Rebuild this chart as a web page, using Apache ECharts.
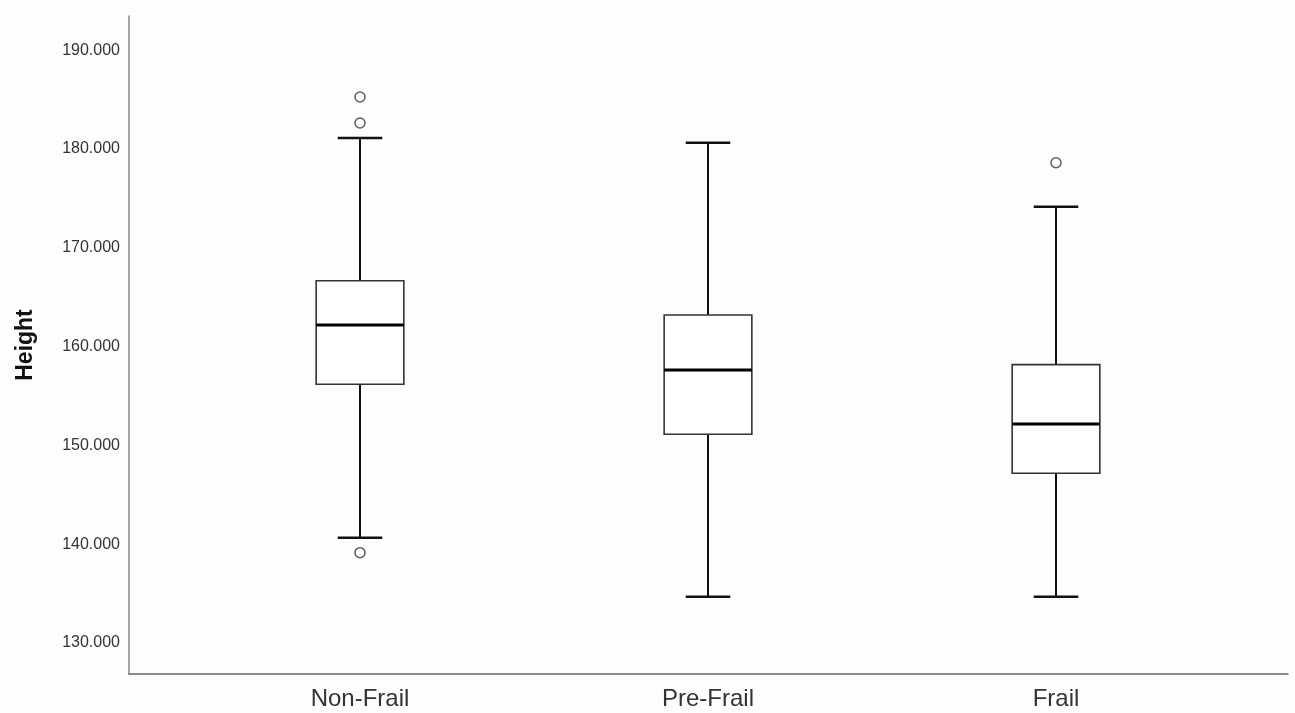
<!DOCTYPE html>
<html>
<head>
<meta charset="utf-8">
<script src="https://cdn.jsdelivr.net/npm/echarts@6/dist/echarts.min.js"></script>
<style>
html,body{margin:0;padding:0;background:#fdfdfd;}
#c{width:1295px;height:713px;}
</style>
</head>
<body>
<div id="c"></div>
<script>
const categories = ['Non-Frail', 'Pre-Frail', 'Frail'];
const lowerWhisker = [140.67, 134.70, 134.70];
const q1 = [156.19, 151.13, 147.19];
const median = [162.20, 157.64, 152.18];
const q3 = [166.68, 163.21, 158.18];
const upperWhisker = [181.12, 180.65, 174.17];
const outlierCat = [0, 0, 0, 2];
const outlierVal = [185.27, 182.64, 139.15, 178.62];
const yTicks = [130, 140, 150, 160, 170, 180, 190];
const yName = 'Height';

const boxData = categories.map((c, i) => [i, lowerWhisker[i], q1[i], median[i], q3[i], upperWhisker[i]]);
const outData = outlierCat.map((c, i) => [c, outlierVal[i]]);

const yMin = 126.87, yMax = 193.47;
const font = 'Liberation Sans, Arial, sans-serif';

const chart = echarts.init(document.getElementById('c'), null, {renderer: 'canvas'});
chart.setOption({
  backgroundColor: '#fdfdfd',
  animation: false,
  grid: [
    {left: 186, right: 65, top: 16, bottom: 39},
    {left: 129, right: 7, top: 16, bottom: 39}
  ],
  xAxis: [
    {
      type: 'category', gridIndex: 0, data: categories,
      axisLine: {show: false}, axisTick: {show: false},
      axisLabel: {fontFamily: font, fontSize: 24, color: '#333', margin: 13}
    },
    {
      type: 'value', gridIndex: 1, min: 0, max: 1,
      axisLine: {show: true, lineStyle: {color: '#666', width: 1.5}},
      axisTick: {show: false}, axisLabel: {show: false}, splitLine: {show: false}
    }
  ],
  yAxis: [
    {
      type: 'value', gridIndex: 0, min: yMin, max: yMax,
      axisLine: {show: false}, axisTick: {show: false}, axisLabel: {show: false}, splitLine: {show: false}
    },
    {
      type: 'value', gridIndex: 1, min: yMin, max: yMax,
      name: yName, nameLocation: 'middle', nameGap: 92,
      nameTextStyle: {fontFamily: font, fontSize: 23, fontWeight: 'bold', color: '#111'},
      axisLine: {show: true, lineStyle: {color: '#888', width: 1.5}},
      axisTick: {show: false},
      splitLine: {show: false},
      axisLabel: {
        fontFamily: font, fontSize: 16, color: '#333', margin: 9,
        customValues: yTicks,
        formatter: v => v.toFixed(3)
      }
    }
  ],
  series: [
    {
      type: 'custom',
      xAxisIndex: 0, yAxisIndex: 0,
      data: boxData,
      encode: {x: 0, y: [1, 2, 3, 4, 5]},
      renderItem: function (params, api) {
        const x = api.value(0);
        const lo = api.coord([x, api.value(1)]);
        const b1 = api.coord([x, api.value(2)]);
        const md = api.coord([x, api.value(3)]);
        const b3 = api.coord([x, api.value(4)]);
        const hi = api.coord([x, api.value(5)]);
        const band = api.size([1, 0])[0];
        const bw = band * 0.252, cw = band * 0.128;
        const cx = md[0];
        const ws = {stroke: '#111', lineWidth: 2};
        return {
          type: 'group',
          children: [
            {type: 'line', shape: {x1: cx, y1: hi[1], x2: cx, y2: b3[1]}, style: ws},
            {type: 'line', shape: {x1: cx, y1: b1[1], x2: cx, y2: lo[1]}, style: ws},
            {type: 'line', shape: {x1: cx - cw / 2, y1: hi[1], x2: cx + cw / 2, y2: hi[1]}, style: {stroke: '#111', lineWidth: 2.5}},
            {type: 'line', shape: {x1: cx - cw / 2, y1: lo[1], x2: cx + cw / 2, y2: lo[1]}, style: {stroke: '#111', lineWidth: 2.5}},
            {type: 'rect', shape: {x: cx - bw / 2, y: b3[1], width: bw, height: b1[1] - b3[1]},
              style: {fill: '#ffffff', stroke: '#333', lineWidth: 1.6}},
            {type: 'line', shape: {x1: cx - bw / 2, y1: md[1], x2: cx + bw / 2, y2: md[1]}, style: {stroke: '#000', lineWidth: 3}}
          ]
        };
      }
    },
    {
      type: 'scatter',
      xAxisIndex: 0, yAxisIndex: 0,
      data: outData,
      symbol: 'circle', symbolSize: 10,
      itemStyle: {color: '#ffffff', borderColor: '#333', borderWidth: 1.5}
    }
  ]
});
</script>
</body>
</html>
